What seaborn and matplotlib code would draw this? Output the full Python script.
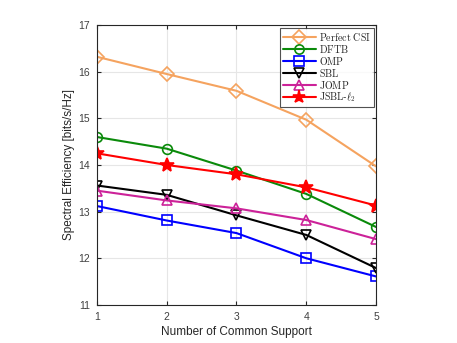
import pandas as pd
import matplotlib.pyplot as plt
import seaborn as sns

x_support = [1, 2, 3, 4, 5]
perfect_csi = [16.32, 15.95, 15.59, 14.97, 13.97]
dftb = [14.60, 14.35, 13.88, 13.38, 12.67]
omp = [13.12, 12.81, 12.54, 12.00, 11.61]
sbl = [13.56, 13.36, 12.92, 12.50, 11.79]
jomp = [13.45, 13.24, 13.07, 12.82, 12.41]
jsbl = [14.25, 14.00, 13.80, 13.52, 13.13]

series = [
    (r"$\mathrm{Perfect\ CSI}$", perfect_csi, "#F5A35F", "D", False),
    (r"$\mathrm{DFTB}$", dftb, "#0A8A0A", "o", False),
    (r"$\mathrm{OMP}$", omp, "#0000FF", "s", False),
    (r"$\mathrm{SBL}$", sbl, "#000000", "v", False),
    (r"$\mathrm{JOMP}$", jomp, "#CC2299", "^", False),
    (r"$\mathrm{JSBL}$-$\ell_2$", jsbl, "#FF0000", "*", True),
]

sns.set_style("whitegrid")
plt.rcParams["font.family"] = ["Liberation Sans", "DejaVu Sans"]
plt.rcParams["mathtext.fontset"] = "cm"

fig = plt.figure(figsize=(4.57, 3.43), dpi=100)
ax = fig.add_axes([0.212, 0.111, 0.611, 0.816])

for name, vals, col, mk, filled in series:
    df = pd.DataFrame({"x": x_support, "y": vals})
    sns.lineplot(data=df, x="x", y="y", ax=ax, color=col, marker=mk,
                 markersize=10 if mk == "*" else 7,
                 markerfacecolor=col if filled else "none",
                 markeredgecolor=col, markeredgewidth=1.2, linewidth=1.5,
                 label=name)

ax.set_xlim(1, 5)
ax.set_ylim(11, 17)
ax.set_xticks(x_support)
ax.set_yticks([11, 12, 13, 14, 15, 16, 17])
ax.grid(True, color="#E6E6E6", linewidth=0.8)
for s in ax.spines.values():
    s.set_color("#262626")
    s.set_linewidth(0.8)
ax.tick_params(direction="in", length=3, labelsize=7.5, colors="#262626",
               labelcolor="#404040", pad=5,
               top=True, right=True, bottom=True, left=True)
ax.set_xlabel("Number of Common Support", fontsize=8.5, color="#262626", labelpad=3)
ax.set_ylabel("Spectral Efficiency [bits/s/Hz]", fontsize=8.5, color="#262626", labelpad=2)

leg = ax.legend(loc="upper right", fontsize=7.2, frameon=True, fancybox=False,
                borderpad=0.3, labelspacing=0.0, handlelength=3.3,
                handletextpad=0.3, borderaxespad=0.25, markerscale=0.95)
leg.get_frame().set_edgecolor("#262626")
leg.get_frame().set_linewidth(0.8)

fig.savefig("out.png", dpi=100)
